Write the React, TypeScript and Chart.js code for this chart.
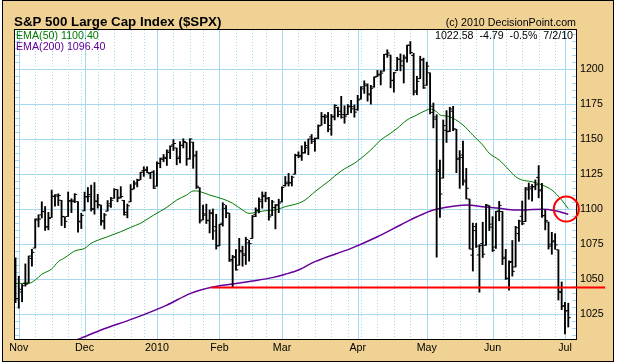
import React, { useEffect, useRef } from 'react';
import { Chart, registerables } from 'chart.js';

Chart.register(...registerables);

// ---------------- DATA ----------------
const dates = [
  '10/30','11/2','11/3','11/4','11/5','11/6','11/9','11/10','11/11','11/12',
  '11/13','11/16','11/17','11/18','11/19','11/20','11/23','11/24','11/25','11/27',
  '11/30','12/1','12/2','12/3','12/4','12/7','12/8','12/9','12/10','12/11',
  '12/14','12/15','12/16','12/17','12/18','12/21','12/22','12/23','12/24','12/28',
  '12/29','12/30','12/31','1/4','1/5','1/6','1/7','1/8','1/11','1/12',
  '1/13','1/14','1/15','1/19','1/20','1/21','1/22','1/25','1/26','1/27',
  '1/28','1/29','2/1','2/2','2/3','2/4','2/5','2/8','2/9','2/10',
  '2/11','2/12','2/16','2/17','2/18','2/19','2/22','2/23','2/24','2/25',
  '2/26','3/1','3/2','3/3','3/4','3/5','3/8','3/9','3/10','3/11',
  '3/12','3/15','3/16','3/17','3/18','3/19','3/22','3/23','3/24','3/25',
  '3/26','3/29','3/30','3/31','4/1','4/5','4/6','4/7','4/8','4/9',
  '4/12','4/13','4/14','4/15','4/16','4/19','4/20','4/21','4/22','4/23',
  '4/26','4/27','4/28','4/29','4/30','5/3','5/4','5/5','5/6','5/7',
  '5/10','5/11','5/12','5/13','5/14','5/17','5/18','5/19','5/20','5/21',
  '5/24','5/25','5/26','5/27','5/28','6/1','6/2','6/3','6/4','6/7',
  '6/8','6/9','6/10','6/11','6/14','6/15','6/16','6/17','6/18','6/21',
  '6/22','6/23','6/24','6/25','6/28','6/29','6/30','7/1','7/2'
];

const opens = [
  1065.41,1036.18,1040.92,1047.14,1047.30,1064.95,1072.31,1092.36,1096.04,1098.31,
  1087.59,1094.13,1109.22,1109.44,1106.44,1094.66,1094.86,1105.83,1106.49,1105.47,
  1091.07,1098.89,1109.03,1110.59,1100.43,1105.52,1103.04,1091.07,1098.69,1103.96,
  1107.84,1114.11,1108.61,1106.36,1097.86,1105.31,1114.51,1118.84,1121.08,1127.53,
  1128.55,1125.53,1126.60,1116.56,1132.66,1135.71,1136.27,1140.52,1145.96,1143.81,
  1137.31,1145.68,1147.72,1136.03,1147.95,1138.68,1115.49,1092.40,1095.80,1091.94,
  1096.93,1087.61,1073.89,1090.05,1100.67,1097.25,1064.12,1065.51,1060.06,1069.68,
  1067.10,1075.95,1079.13,1096.14,1099.03,1105.49,1110.00,1107.49,1095.89,1101.24,
  1103.10,1105.36,1117.01,1119.36,1119.12,1125.12,1138.40,1137.56,1140.22,1143.96,
  1151.71,1148.53,1150.83,1159.94,1166.13,1166.68,1157.25,1166.47,1172.70,1170.03,
  1167.58,1167.71,1173.75,1171.75,1171.23,1178.71,1186.01,1188.23,1181.75,1187.47,
  1194.94,1195.94,1198.69,1210.77,1210.17,1192.06,1199.04,1207.16,1202.52,1207.87,
  1217.07,1209.92,1184.59,1193.30,1206.77,1188.58,1197.50,1169.24,1164.38,1127.04,
  1122.27,1156.39,1155.43,1170.04,1157.19,1136.52,1138.78,1119.57,1107.34,1067.26,
  1084.78,1067.42,1075.51,1074.27,1102.59,1087.30,1073.01,1098.82,1098.43,1065.84,
  1050.81,1062.75,1058.77,1082.65,1095.00,1091.21,1114.02,1115.98,1116.16,1122.79,
  1113.90,1095.57,1090.93,1075.10,1077.50,1071.10,1040.56,1031.10,1027.65
];

const highs = [
  1065.41,1052.18,1046.36,1061.00,1066.65,1071.48,1093.19,1096.10,1105.37,1101.97,
  1097.79,1113.69,1110.52,1111.10,1106.44,1094.66,1112.38,1107.56,1111.18,1105.47,
  1097.24,1112.28,1115.58,1117.28,1119.13,1110.72,1103.04,1097.04,1106.25,1108.50,
  1114.76,1114.11,1116.21,1106.36,1103.74,1117.68,1120.27,1121.58,1126.48,1130.38,
  1130.38,1126.42,1127.64,1133.87,1136.63,1139.19,1142.46,1145.39,1149.74,1143.81,
  1148.40,1150.41,1147.77,1150.45,1147.95,1141.58,1115.49,1102.97,1103.69,1099.51,
  1100.22,1096.45,1089.38,1104.73,1102.72,1097.25,1067.13,1071.20,1079.28,1073.67,
  1080.04,1077.81,1095.67,1101.03,1108.24,1112.42,1112.29,1108.58,1106.42,1103.50,
  1107.24,1116.11,1123.46,1125.64,1123.73,1139.38,1141.05,1145.37,1148.26,1150.24,
  1153.41,1150.98,1160.28,1169.20,1167.77,1169.20,1167.82,1174.72,1173.04,1180.69,
  1173.93,1174.85,1177.83,1174.56,1181.43,1187.73,1191.80,1189.60,1188.55,1194.66,
  1199.20,1199.04,1210.65,1213.92,1210.17,1197.87,1208.58,1210.99,1210.27,1217.28,
  1219.80,1211.38,1195.05,1209.36,1207.99,1205.13,1197.50,1175.95,1167.58,1135.13,
  1163.85,1170.48,1172.87,1173.57,1157.19,1141.88,1148.66,1129.23,1107.34,1090.16,
  1089.95,1074.75,1090.75,1103.52,1102.59,1094.77,1098.56,1105.67,1098.43,1071.36,
  1063.15,1077.74,1087.85,1092.25,1105.91,1115.59,1118.74,1117.72,1121.01,1131.23,
  1118.50,1099.64,1090.93,1083.56,1082.60,1071.10,1048.08,1033.58,1032.95
];

const lows = [
  1033.38,1029.38,1033.94,1045.15,1047.30,1059.32,1072.31,1087.40,1093.81,1084.90,
  1085.33,1094.13,1102.19,1102.70,1088.40,1086.81,1094.86,1097.63,1104.75,1083.74,
  1086.25,1098.89,1105.29,1098.74,1096.52,1100.83,1088.61,1085.89,1098.69,1101.34,
  1107.84,1105.35,1107.96,1095.88,1093.88,1105.31,1114.51,1116.00,1121.08,1123.51,
  1126.08,1121.94,1114.81,1116.56,1129.66,1133.95,1131.32,1136.22,1142.02,1131.77,
  1133.18,1143.80,1131.39,1135.77,1129.25,1114.84,1090.18,1092.40,1089.86,1083.11,
  1078.46,1071.59,1073.89,1087.96,1093.97,1062.78,1044.50,1056.51,1060.06,1059.34,
  1060.59,1062.97,1079.13,1094.72,1097.48,1100.80,1105.38,1092.18,1095.50,1086.02,
  1097.56,1105.36,1116.51,1116.58,1116.66,1125.12,1136.77,1134.90,1140.09,1138.99,
  1146.97,1141.45,1150.35,1159.94,1161.16,1155.33,1152.88,1163.83,1166.01,1165.09,
  1161.48,1167.71,1168.92,1165.77,1170.69,1178.71,1182.77,1177.25,1175.12,1187.15,
  1194.71,1188.82,1198.69,1208.50,1186.77,1183.68,1199.04,1198.85,1190.19,1205.10,
  1211.07,1181.62,1181.81,1193.30,1186.32,1188.58,1168.12,1158.15,1065.79,1094.15,
  1122.27,1147.71,1155.43,1156.14,1126.14,1114.96,1117.20,1107.34,1071.58,1055.90,
  1072.70,1040.78,1065.59,1074.27,1084.78,1069.89,1072.03,1091.81,1060.50,1049.86,
  1042.17,1052.25,1058.77,1077.12,1089.03,1091.21,1107.13,1105.87,1113.93,1108.24,
  1094.18,1085.31,1071.60,1067.89,1071.45,1035.18,1028.33,1010.91,1015.93
];

const closes = [
  1036.19,1042.88,1045.41,1046.50,1066.63,1069.30,1093.08,1093.01,1098.51,1087.24,
  1093.48,1109.30,1110.32,1109.80,1094.90,1091.38,1106.24,1105.65,1110.63,1091.49,
  1095.63,1108.86,1109.24,1099.92,1105.98,1103.25,1091.94,1095.95,1102.35,1106.41,
  1114.11,1107.93,1109.18,1096.08,1102.47,1114.05,1118.02,1120.59,1126.48,1127.78,
  1126.20,1126.42,1115.10,1132.99,1136.52,1137.14,1141.69,1144.98,1146.98,1136.22,
  1145.68,1148.46,1136.03,1150.23,1138.04,1116.48,1091.76,1096.78,1092.17,1097.50,
  1084.53,1073.87,1089.19,1103.32,1097.28,1063.11,1066.19,1056.74,1070.52,1068.13,
  1078.47,1075.51,1094.87,1099.51,1106.75,1109.17,1108.01,1094.60,1105.24,1102.94,
  1104.49,1115.71,1118.31,1118.79,1122.97,1138.70,1138.50,1140.45,1145.61,1150.24,
  1149.99,1150.51,1159.46,1166.21,1165.83,1159.90,1165.81,1174.17,1167.72,1165.73,
  1166.59,1173.22,1173.27,1169.43,1178.10,1187.44,1189.44,1182.45,1186.44,1194.37,
  1196.48,1197.30,1210.65,1211.67,1192.13,1197.52,1207.17,1205.94,1208.67,1217.28,
  1212.05,1183.71,1191.36,1206.78,1186.69,1202.26,1173.60,1165.90,1128.15,1110.88,
  1159.73,1155.79,1171.67,1157.44,1135.68,1136.94,1120.80,1115.05,1071.59,1087.69,
  1073.65,1074.03,1067.95,1103.06,1089.41,1070.71,1098.38,1102.83,1064.88,1050.47,
  1062.00,1055.69,1086.84,1091.60,1089.63,1115.23,1114.61,1116.04,1117.51,1113.20,
  1095.31,1092.04,1073.69,1076.76,1074.57,1041.24,1030.71,1027.37,1022.58
];

// EMA(50) (bar index -> value)
const ema50Idx = [0,4,6,8,11,13,15,18,21,23,26,28,32,35,38,42,46,49,52,54,55,57,59,63,66,69,71,74,76,79,82,86,88,91,95,99,103,105,108,111,114,116,119,122,125,126,128,129,131,133,136,139,142,144,147,150,152,154,157,160,163,166,168];
const ema50Val = [1047.1,1047.1,1049.5,1053.6,1057.4,1062.6,1065.4,1070.2,1072.1,1075.7,1078.8,1080.4,1084.0,1087.1,1090.0,1095.9,1101.4,1106.6,1110.2,1113.1,1113.1,1111.9,1110.2,1107.4,1104.3,1099.5,1097.1,1098.3,1099.0,1099.5,1101.9,1104.3,1106.6,1112.6,1119.7,1127.4,1132.9,1136.4,1142.4,1149.5,1154.3,1157.8,1163.8,1167.4,1170.9,1171.6,1169.7,1167.4,1166.6,1165.0,1160.2,1153.0,1145.9,1140.0,1135.2,1128.1,1123.3,1120.9,1119.7,1117.4,1113.8,1106.6,1100.4];

// EMA(200)
const ema200Idx = [17,20,26,36,46,53,56,62,66,72,78,82,86,91,102,110,117,122,127,132,137,142,147,152,160,164,168];
const ema200Val = [1005.5,1008.0,1013.8,1022.1,1031.6,1039.8,1042.2,1045.4,1046.6,1048.8,1051.2,1053.6,1056.6,1062.6,1072.1,1080.4,1088.8,1094.7,1099.5,1101.9,1103.1,1101.9,1100.7,1099.5,1100.0,1099.0,1096.4];

const monthStartDates = ['11/2','12/1','1/4','2/1','3/1','4/1','5/3','6/1','7/1'];
const monthLabels = ['Nov','Dec','2010','Feb','Mar','Apr','May','Jun','Jul'];
const weekStartDates = ['11/2','11/9','11/16','11/23','11/30','12/7','12/14','12/21','12/28','1/4','1/11','1/19','1/25','2/1','2/8','2/16','2/22','3/1','3/8','3/15','3/22','3/29','4/5','4/12','4/19','4/26','5/3','5/10','5/17','5/24','6/1','6/7','6/14','6/21','6/28'];
const yTicks = [1025,1050,1075,1100,1125,1150,1175,1200];

// annotations
const supportLevel = 1044.2;
const supportFrom = 59.5;
const supportTo = 179.2;
const circleX = 167.4;
const circleY = 1100.2;

const titleText = 'S&P 500 Large Cap Index ($SPX)';
const creditText = '(c) 2010 DecisionPoint.com';
const quoteText = '1022.58  -4.79  -0.5%  7/2/10';
const ema50Text = 'EMA(50) 1100.40';
const ema200Text = 'EMA(200) 1096.40';

// ---------------- STYLE ----------------
const FONT = "'Liberation Sans', Arial, sans-serif";
const TAN = '#F0D294';
const GRID = '#A6D9EF';
const GREEN = '#007A00';
const PURPLE = '#660099';
const X_MIN = -0.15;
const X_MAX = 170.35;
const Y_MIN = 1007.36;
const Y_MAX = 1228.07;
const MINOR_STEP = 5;

const monthStartIdx = monthStartDates.map((d) => dates.indexOf(d));
const weekStartIdx = weekStartDates.map((d) => dates.indexOf(d));

const decorPlugin = {
  id: 'decor',
  beforeDraw(chart: any) {
    const { ctx, width, height } = chart;
    ctx.save();
    ctx.fillStyle = '#ffffff';
    ctx.fillRect(0, 0, width, height);
    ctx.fillStyle = TAN;
    ctx.fillRect(2, 0, 612, 362);
    ctx.strokeStyle = '#000';
    ctx.lineWidth = 1;
    ctx.strokeRect(2.5, 0.5, 611, 361);
    ctx.fillStyle = '#000';
    ctx.textBaseline = 'alphabetic';
    ctx.font = `bold 13.33px ${FONT}`;
    ctx.textAlign = 'left';
    ctx.fillText(titleText, 14, 26);
    ctx.font = `10.67px ${FONT}`;
    ctx.textAlign = 'right';
    ctx.fillText(creditText, 576, 26);
    ctx.restore();
  },
  beforeDatasetsDraw(chart: any) {
    const { ctx, chartArea: a, scales } = chart;
    const xs = scales.x;
    const ys = scales.y;
    const w = a.right - a.left;
    const h = a.bottom - a.top;
    ctx.save();
    ctx.fillStyle = '#ffffff';
    ctx.fillRect(a.left, a.top, w, h);
    ctx.save();
    ctx.beginPath();
    ctx.rect(a.left, a.top, w, h);
    ctx.clip();
    ctx.strokeStyle = GRID;
    ctx.lineWidth = 1;
    // horizontal grid
    ctx.beginPath();
    for (const v of yTicks) {
      const py = Math.round(ys.getPixelForValue(v)) + 0.5;
      ctx.moveTo(a.left, py);
      ctx.lineTo(a.right, py);
    }
    ctx.stroke();
    // minor tick marks at both edges
    ctx.beginPath();
    for (let v = Math.ceil(Y_MIN / MINOR_STEP) * MINOR_STEP; v <= Y_MAX; v += MINOR_STEP) {
      if (yTicks.includes(v)) continue;
      const py = Math.round(ys.getPixelForValue(v)) + 0.5;
      ctx.moveTo(a.left, py);
      ctx.lineTo(a.left + 4, py);
      ctx.moveTo(a.right - 4, py);
      ctx.lineTo(a.right, py);
    }
    ctx.stroke();
    // weekly dotted lines
    ctx.setLineDash([1, 2]);
    ctx.beginPath();
    for (const i of weekStartIdx) {
      if (monthStartIdx.includes(i)) continue;
      const px = Math.round(xs.getPixelForValue(i)) + 0.5;
      ctx.moveTo(px, a.top);
      ctx.lineTo(px, a.bottom);
    }
    ctx.stroke();
    // month solid lines
    ctx.setLineDash([]);
    ctx.beginPath();
    for (const i of monthStartIdx) {
      const px = Math.round(xs.getPixelForValue(i)) + 0.5;
      ctx.moveTo(px, a.top);
      ctx.lineTo(px, a.bottom);
    }
    ctx.stroke();
    ctx.restore();
    // plot border
    ctx.strokeStyle = '#000';
    ctx.lineWidth = 1;
    ctx.strokeRect(a.left - 0.5, a.top - 0.5, w + 1, h + 1);
    ctx.restore();
  },
  afterDatasetsDraw(chart: any) {
    const { ctx, chartArea: a } = chart;
    ctx.save();
    ctx.font = `10.67px ${FONT}`;
    ctx.textBaseline = 'alphabetic';
    ctx.textAlign = 'left';
    ctx.fillStyle = GREEN;
    ctx.fillText(ema50Text, a.left + 1, a.top + 8.5);
    ctx.fillStyle = PURPLE;
    ctx.fillText(ema200Text, a.left + 1, a.top + 20);
    ctx.fillStyle = '#000';
    ctx.textAlign = 'right';
    ctx.fillText(quoteText, a.right - 3, a.top + 8.5);
    ctx.restore();
  },
};

export default function App() {
  const ref = useRef<HTMLCanvasElement | null>(null);

  useEffect(() => {
    if (!ref.current) return;
    const hl = dates.map((_, i) => ({ x: i, y: [lows[i], highs[i]] }));
    const op = dates.map((_, i) => ({ x: i - 0.45, y: opens[i] }));
    const cl = dates.map((_, i) => ({ x: i + 0.45, y: closes[i] }));
    const e50 = ema50Idx.map((x, i) => ({ x, y: ema50Val[i] }));
    const e200 = ema200Idx.map((x, i) => ({ x, y: ema200Val[i] }));

    const tickFont = { family: FONT, size: 10.67 };

    const chart = new Chart(ref.current, {
      type: 'bar',
      data: {
        datasets: [
          {
            type: 'line',
            data: [{ x: circleX, y: circleY }],
            showLine: false,
            pointRadius: 12.5,
            pointBorderWidth: 2,
            pointBorderColor: '#ff0000',
            pointBackgroundColor: 'rgba(0,0,0,0)',
            clip: false,
            order: -2,
          } as any,
          {
            type: 'line',
            data: [
              { x: supportFrom, y: supportLevel },
              { x: supportTo, y: supportLevel },
            ],
            borderColor: '#ff0000',
            borderWidth: 2,
            pointRadius: 0,
            clip: false,
            order: -1,
          } as any,
          {
            type: 'bar',
            data: hl as any,
            backgroundColor: '#000',
            borderWidth: 0,
            barThickness: 1.2,
            order: 1,
          } as any,
          {
            type: 'line',
            data: op,
            showLine: false,
            pointStyle: 'line',
            pointRadius: 1,
            pointBorderWidth: 1,
            pointBorderColor: '#000',
            order: 1,
          } as any,
          {
            type: 'line',
            data: cl,
            showLine: false,
            pointStyle: 'line',
            pointRadius: 1,
            pointBorderWidth: 1,
            pointBorderColor: '#000',
            order: 1,
          } as any,
          {
            type: 'line',
            data: e50,
            borderColor: GREEN,
            borderWidth: 1,
            pointRadius: 0,
            cubicInterpolationMode: 'monotone',
            order: 3,
          } as any,
          {
            type: 'line',
            data: e200,
            borderColor: PURPLE,
            borderWidth: 1.5,
            pointRadius: 0,
            cubicInterpolationMode: 'monotone',
            order: 3,
          } as any,
        ],
      },
      options: {
        responsive: false,
        animation: false,
        devicePixelRatio: 1,
        events: [],
        layout: { padding: { left: 15, top: 30, right: 0, bottom: 0 }, autoPadding: false },
        plugins: {
          legend: { display: false },
          tooltip: { enabled: false },
          title: { display: false },
        },
        scales: {
          x: {
            type: 'linear',
            min: X_MIN,
            max: X_MAX,
            offset: false,
            grid: { display: false, drawTicks: false },
            border: { display: false },
            afterBuildTicks: (s: any) => {
              s.ticks = monthStartIdx.map((v) => ({ value: v }));
            },
            afterFit: (s: any) => {
              s.height = 25;
            },
            ticks: {
              autoSkip: false,
              maxRotation: 0,
              minRotation: 0,
              padding: 3,
              color: '#000',
              font: tickFont,
              callback: (_v: any, i: number) => monthLabels[i],
            },
          },
          y: {
            type: 'linear',
            position: 'right',
            min: Y_MIN,
            max: Y_MAX,
            grid: { display: false, drawTicks: false },
            border: { display: false },
            afterBuildTicks: (s: any) => {
              s.ticks = yTicks.map((v) => ({ value: v }));
            },
            afterFit: (s: any) => {
              s.width = 41;
            },
            ticks: {
              padding: 4,
              color: '#000',
              font: tickFont,
              callback: (v: any) => String(v),
            },
          },
        },
      } as any,
      plugins: [decorPlugin],
    });
    return () => chart.destroy();
  }, []);

  return (
    <div style={{ position: 'absolute', left: 0, top: 0, width: 617, height: 364 }}>
      <canvas ref={ref} width={617} height={364} style={{ display: 'block', width: 617, height: 364 }} />
    </div>
  );
}
